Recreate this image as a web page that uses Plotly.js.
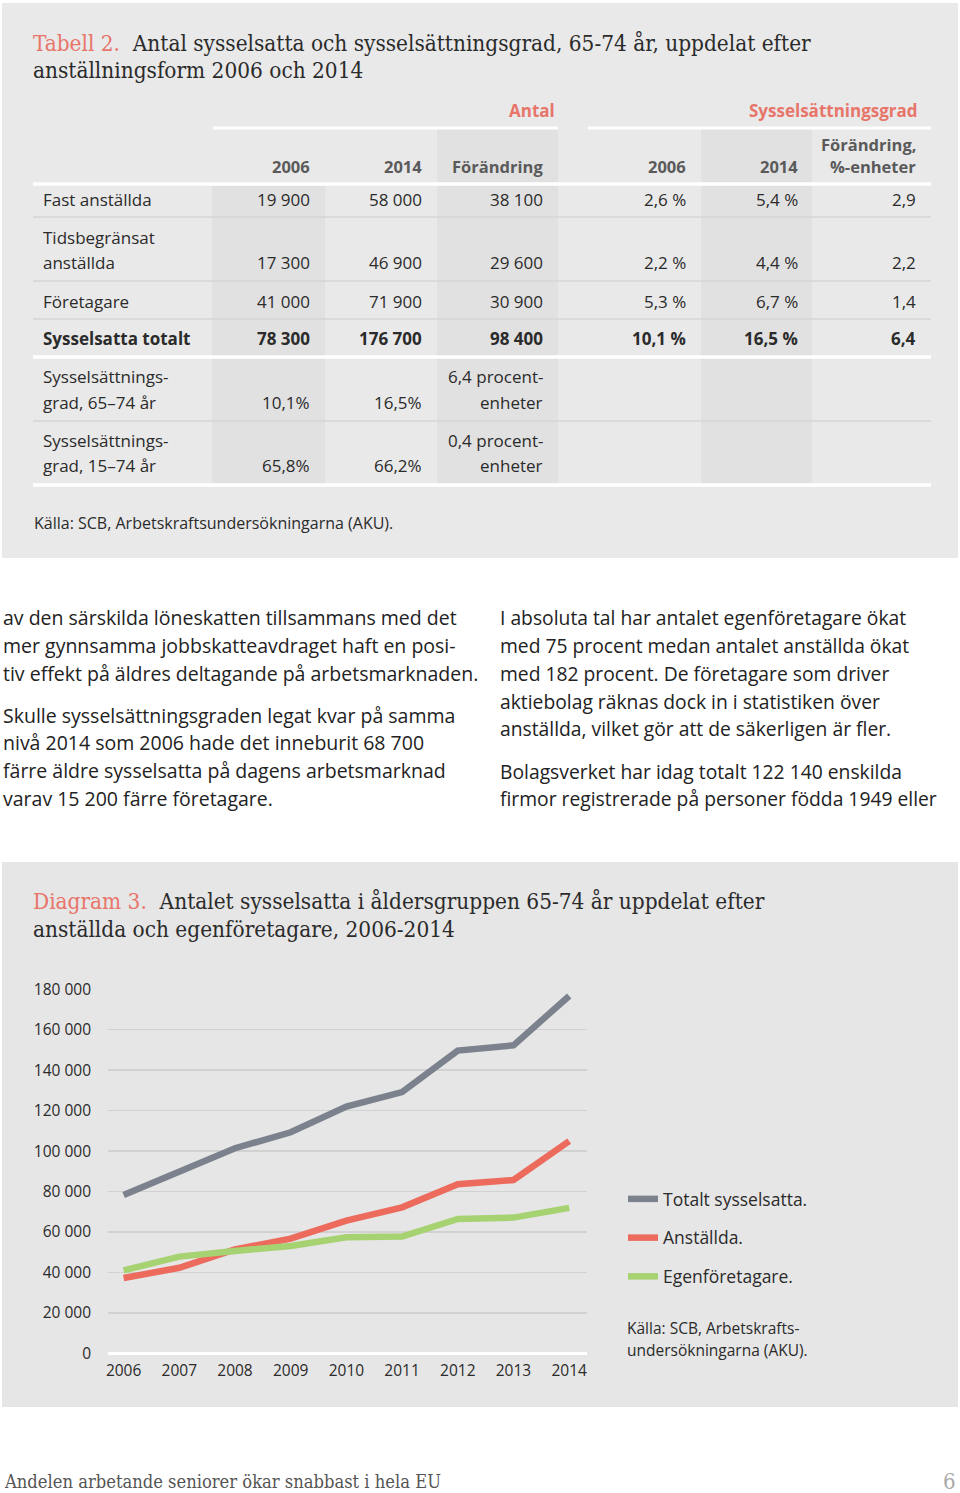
<!DOCTYPE html>
<html><head><meta charset="utf-8">
<script src="https://cdn.plot.ly/plotly-3.0.1.min.js"></script>
<style>html,body{margin:0;padding:0;background:#fff}#page{width:960px;height:1493px}</style>
</head><body><div id="page"></div>
<script>
// ---------- DATA ----------
const years = [2006, 2007, 2008, 2009, 2010, 2011, 2012, 2013, 2014];
const totaltSysselsatta = [78300, 89800, 101400, 109300, 122000, 129200, 149700, 152300, 176700];
const anstallda = [37200, 42300, 51400, 56700, 65600, 72200, 83600, 85700, 104900];
const egenforetagare = [41000, 47800, 50600, 53100, 57400, 57700, 66400, 67100, 71900];
const seriesNames = ['Totalt sysselsatta.', 'Anställda.', 'Egenföretagare.'];
const yTickVals = [0, 20000, 40000, 60000, 80000, 100000, 120000, 140000, 160000, 180000];

const tableGroups = ['Antal', 'Sysselsättningsgrad'];
const tableHeaders = [['2006'], ['2014'], ['Förändring'], ['2006'], ['2014'], ['Förändring,', '%-enheter']];
const rowLabels = [['Fast anställda'], ['Tidsbegränsat', 'anställda'], ['Företagare'], ['Sysselsatta totalt'],
                   ['Sysselsättnings-', 'grad, 65–74 år'], ['Sysselsättnings-', 'grad, 15–74 år']];
const antal2006 = [['19 900'], ['17 300'], ['41 000'], ['78 300'], ['10,1%'], ['65,8%']];
const antal2014 = [['58 000'], ['46 900'], ['71 900'], ['176 700'], ['16,5%'], ['66,2%']];
const antalForandring = [['38 100'], ['29 600'], ['30 900'], ['98 400'], ['6,4 procent-', 'enheter'], ['0,4 procent-', 'enheter']];
const grad2006 = [['2,6 %'], ['2,2 %'], ['5,3 %'], ['10,1 %'], [''], ['']];
const grad2014 = [['5,4 %'], ['4,4 %'], ['6,7 %'], ['16,5 %'], [''], ['']];
const gradForandring = [['2,9'], ['2,2'], ['1,4'], ['6,4'], [''], ['']];
const boldRows = [false, false, false, true, false, false];

const tableTitleLabel = 'Tabell 2.';
const tableTitle = ['Antal sysselsatta och sysselsättningsgrad, 65-74 år, uppdelat efter', 'anställningsform 2006 och 2014'];
const tableSource = 'Källa: SCB, Arbetskraftsundersökningarna (AKU).';
const chartTitleLabel = 'Diagram 3.';
const chartTitle = ['Antalet sysselsatta i åldersgruppen 65-74 år uppdelat efter', 'anställda och egenföretagare, 2006-2014'];
const chartSource = ['Källa: SCB, Arbetskrafts-', 'undersökningarna (AKU).'];
const leftText = [
  ['av den särskilda löneskatten tillsammans med det', 'mer gynnsamma jobbskatteavdraget haft en posi-', 'tiv effekt på äldres deltagande på arbetsmarknaden.'],
  ['Skulle sysselsättningsgraden legat kvar på samma', 'nivå 2014 som 2006 hade det inneburit 68 700', 'färre äldre sysselsatta på dagens arbetsmarknad', 'varav 15 200 färre företagare.']
];
const rightText = [
  ['I absoluta tal har antalet egenföretagare ökat', 'med 75 procent medan antalet anställda ökat', 'med 182 procent. De företagare som driver', 'aktiebolag räknas dock in i statistiken över', 'anställda, vilket gör att de säkerligen är fler.'],
  ['Bolagsverket har idag totalt 122 140 enskilda', 'firmor registrerade på personer födda 1949 eller']
];
const footerText = 'Andelen arbetande seniorer ökar snabbast i hela EU';
const pageNumber = '6';

// ---------- LAYOUT HELPERS ----------
const W = 960, H = 1493;
const fx = x => x / W;
const fy = y => 1 - y / H;
const SANS = 'Open Sans, sans-serif';
const SLAB = 'DejaVu Serif Condensed, DejaVu Serif, serif';
const RED = '#e8756a';
const PANEL = '#e9e9e9';
const SHADE = '#e1e1e1';
const DARK = '#2b2b2b';

const shapes = [];
const annotations = [];

function rect(x0, y0, x1, y1, color) {
  shapes.push({type: 'rect', xref: 'paper', yref: 'paper', x0: fx(x0), x1: fx(x1), y0: fy(y1), y1: fy(y0),
    fillcolor: color, line: {width: 0}, layer: 'below'});
}
function hline(x0, x1, y, color, w) {
  shapes.push({type: 'line', xref: 'paper', yref: 'paper', x0: fx(x0), x1: fx(x1), y0: fy(y), y1: fy(y),
    line: {color: color, width: w}, layer: 'below'});
}
function text(t, x, y, opts) {
  opts = opts || {};
  annotations.push({xref: 'paper', yref: 'paper', x: fx(x), y: fy(y), text: t, showarrow: false,
    xanchor: opts.anchor || 'left', yanchor: 'middle', align: opts.anchor || 'left',
    font: {family: opts.family || SANS, size: opts.size || 17, color: opts.color || DARK, weight: opts.weight || 400}});
}

// ---------- TABLE PANEL ----------
rect(2, 3, 958, 558, PANEL);
const colBands = [[212, 325], [325, 437], [437, 558], [558, 701], [701, 812], [812, 931]];
const colShadeTop = [186, null, 129, null, 129, null];
colBands.forEach((b, i) => { if (colShadeTop[i] !== null) rect(b[0], colShadeTop[i], b[1], 485, SHADE); });
const colTextRight = [312, 424, 545, 688, 800, 918];
const groupSpans = [[213, 558], [588, 931]];
const groupTextRight = [557, 920];

text('<span style="color:' + RED + '">' + tableTitleLabel + '</span>  ' + tableTitle[0], 31, 43, {family: SLAB, size: 22.4});
text(tableTitle[1], 31, 70, {family: SLAB, size: 22.4});

tableGroups.forEach((g, i) => {
  text(g, groupTextRight[i], 111, {anchor: 'right', color: RED, weight: 700, size: 17});
  hline(groupSpans[i][0], groupSpans[i][1], 128, '#ffffff', 3);
});
tableHeaders.forEach((h, i) => {
  h.forEach((line, k) => {
    const y = 166 - (h.length - 1 - k) * 22;
    text(line, colTextRight[i], y, {anchor: 'right', color: '#5a5a5a', weight: 700, size: 16.5});
  });
});
hline(33, 931, 184, '#ffffff', 3.5);

const rowBaseY = [200, 263, 301, 339, 403, 466];
const rowLineY = [217, 281, 319, 357, 421, 485];
const rowLineWhite = [false, false, false, true, false, true];
const lineGap = 26;
const tableCols = [antal2006, antal2014, antalForandring, grad2006, grad2014, gradForandring];

rowLabels.forEach((lab, r) => {
  const wt = boldRows[r] ? 700 : 400;
  lab.forEach((line, k) => text(line, 41, rowBaseY[r] - (lab.length - 1 - k) * lineGap, {weight: wt}));
  tableCols.forEach((col, c) => {
    const cell = col[r];
    cell.forEach((line, k) => {
      if (line) text(line, colTextRight[c], rowBaseY[r] - (cell.length - 1 - k) * lineGap, {anchor: 'right', weight: wt});
    });
  });
  if (rowLineWhite[r]) hline(33, 931, rowLineY[r], '#ffffff', 3.5);
  else hline(33, 931, rowLineY[r], '#d4d4d4', 1.5);
});
text(tableSource, 32, 523, {size: 16});

// ---------- BODY TEXT ----------
const paraStartY = [618, 715];
const rightParaStartY = [618, 771];
const lineH = 27.7;
leftText.forEach((p, i) => p.forEach((line, k) => text(line, 1, paraStartY[i] + k * lineH, {size: 19.5, color: '#222'})));
rightText.forEach((p, i) => p.forEach((line, k) => text(line, 498, rightParaStartY[i] + k * lineH, {size: 19.3, color: '#222'})));

// ---------- CHART PANEL ----------
rect(2, 862, 958, 1407, '#e6e6e6');
text('<span style="color:' + RED + '">' + chartTitleLabel + '</span>  ' + chartTitle[0], 31, 901, {family: SLAB, size: 22.4});
text(chartTitle[1], 31, 929, {family: SLAB, size: 22.4});
chartSource.forEach((line, k) => text(line, 625, 1328 + k * 22, {size: 15.5}));

// ---------- FOOTER ----------
text(footerText, 2, 1481, {family: SLAB, size: 18.2, color: '#555'});
text(pageNumber, 958, 1481, {family: SLAB, size: 22, color: '#aaaaaa', anchor: 'right'});

// ---------- TRACES ----------
const colors = ['#7b818d', '#ec6b5d', '#a6d272'];
const seriesData = [totaltSysselsatta, anstallda, egenforetagare];
const traces = seriesData.map((ys, i) => ({
  type: 'scatter', mode: 'lines', x: years, y: ys, name: seriesNames[i],
  legendgroup: 'g' + i,
  line: {color: colors[i], width: 6.5}
}));

const plotTop = 989.3, plotBottom = 1353.3, plotLeft = 108, plotRight = 587;
const layout = {
  width: W, height: H,
  margin: {l: 0, r: 0, t: 0, b: 0},
  paper_bgcolor: '#ffffff', plot_bgcolor: 'rgba(0,0,0,0)',
  separators: ', ',
  showlegend: true,
  legend: {x: fx(623), y: fy(1181), xanchor: 'left', yanchor: 'top', bgcolor: 'rgba(0,0,0,0)',
    font: {family: SANS, size: 17.5, color: DARK}, traceorder: 'grouped', tracegroupgap: 13},
  xaxis: {domain: [fx(plotLeft), fx(plotRight)], range: [2005.72, 2014.32], tickvals: years,
    showgrid: false, zeroline: false, showline: false, ticks: '', fixedrange: true,
    tickfont: {family: SANS, size: 15.5, color: DARK}, ticklabelstandoff: 6},
  yaxis: {domain: [fy(plotBottom), fy(plotTop)], range: [0, 180000], tickvals: yTickVals, tickformat: ',d',
    showgrid: true, gridcolor: '#d1d1d1', gridwidth: 1.5, zeroline: true, zerolinecolor: '#ffffff', zerolinewidth: 3.5,
    showline: false, ticks: '', fixedrange: true, ticklabelstandoff: 16,
    tickfont: {family: SANS, size: 15.5, color: DARK}},
  shapes: shapes,
  annotations: annotations,
  hovermode: false
};
Plotly.newPlot('page', traces, layout, {staticPlot: true, displayModeBar: false});
</script>
</body></html>
